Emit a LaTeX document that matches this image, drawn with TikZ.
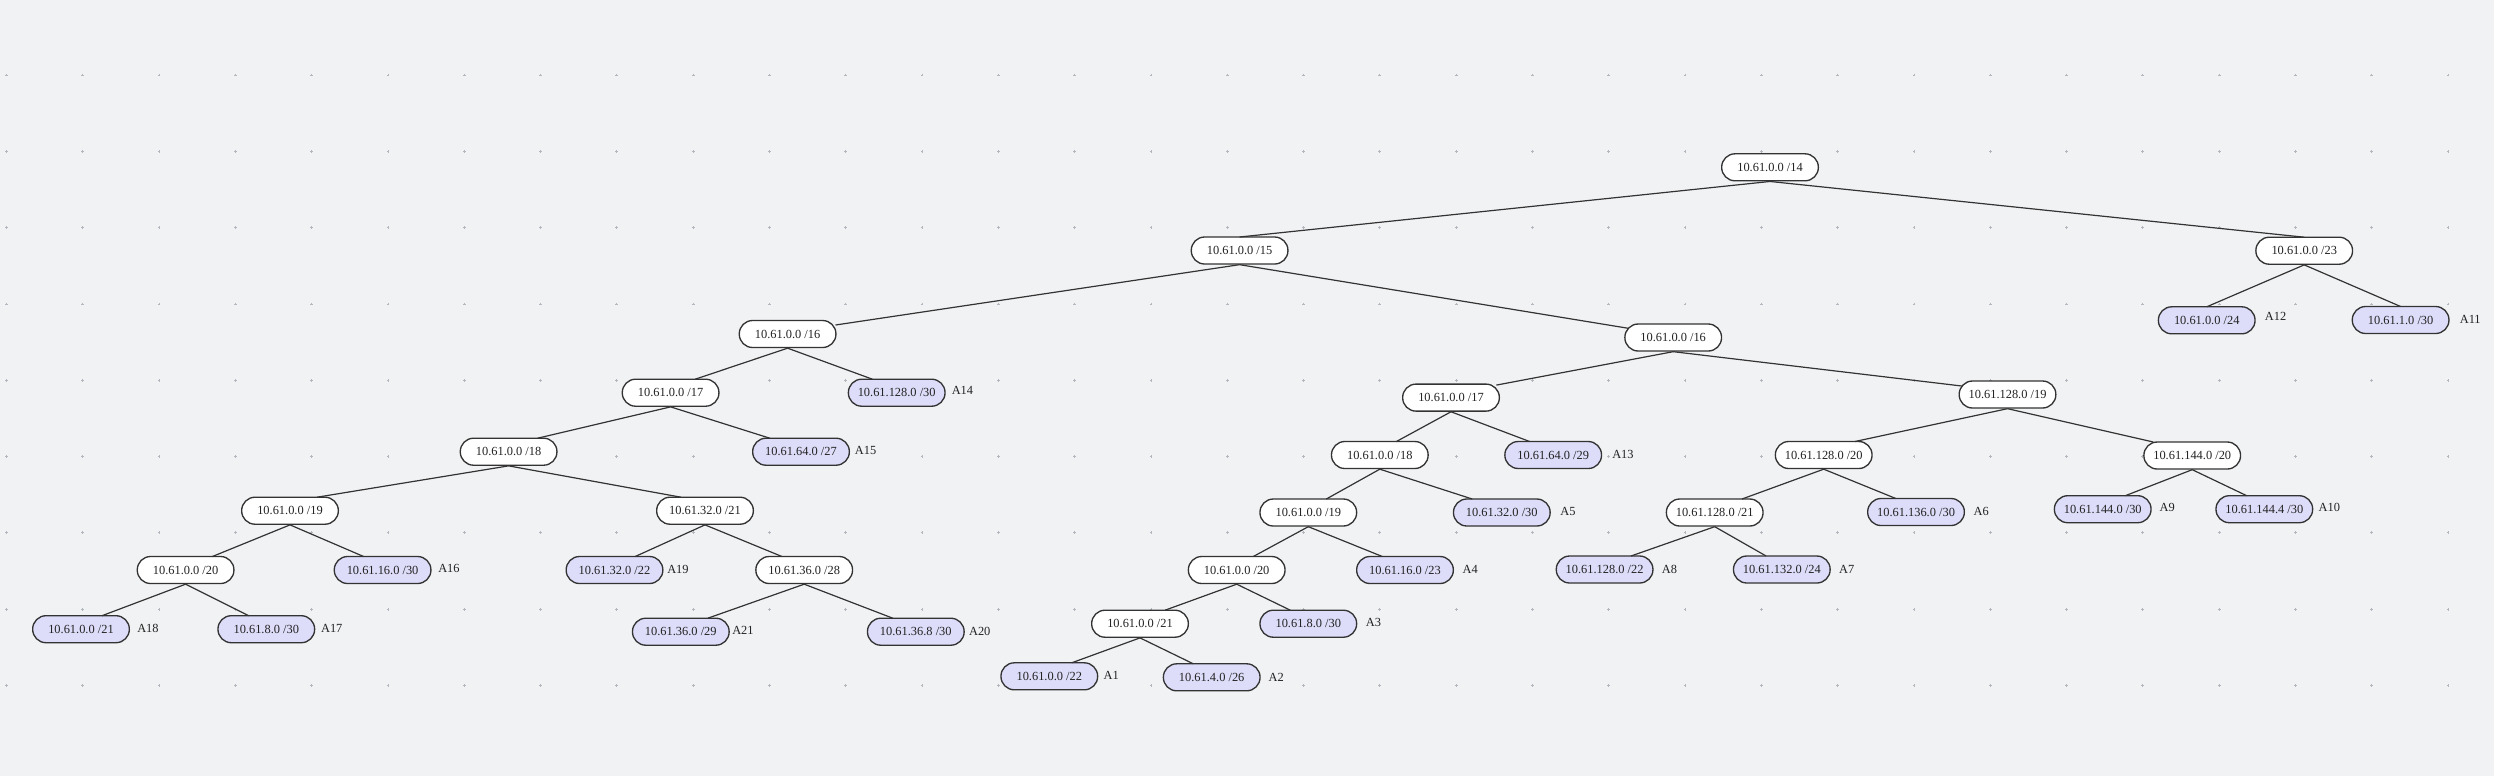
\documentclass[tikz,border=0pt]{standalone}
\usepackage{fontspec}
\setmainfont{Liberation Serif}
\definecolor{bgc}{HTML}{F1F2F4}
\definecolor{dotc}{HTML}{B4B7BD}
\definecolor{edgec}{HTML}{333333}
\definecolor{leafc}{HTML}{DDDDFA}
\definecolor{textc}{HTML}{222222}
\tikzset{
  net/.style={draw=edgec, line width=1pt, fill=white, rounded corners=10pt,
    minimum width=72.5pt, minimum height=20.25pt, inner sep=0pt,
    font=\fontsize{9.3}{10}\selectfont, text=textc},
  leaf/.style={net, fill=leafc},
  tag/.style={anchor=west, inner sep=0pt, font=\fontsize{9.3}{10}\selectfont, text=textc},
  link/.style={draw=edgec, line width=0.9pt}
}
\newcommand{\lnk}[4]{\draw[link] (#1.south) -- ([shift={(#3,#4)}]#2.center);}
\begin{document}
\begin{tikzpicture}[x=0.75pt,y=-0.75pt]
\fill[bgc] (0,0) rectangle (2494,776);
\useasboundingbox (0,0) rectangle (2494,776);
\foreach \i in {0,...,32}{
  \foreach \j in {0,...,8}{
    \draw[dotc, line width=0.55pt] (5.0+76.3*\i, 75+76.3*\j) -- ++(2.8,0)
      (6.4+76.3*\i, 73.6+76.3*\j) -- ++(0,2.8);
  }
}
% internal nodes
\node[net] (r14) at (1770,167.3) {10.61.0.0 /14};
\node[net] (n15) at (1239.6,250.5) {10.61.0.0 /15};
\node[net] (n23) at (2304.2,250.7) {10.61.0.0 /23};
\node[net] (n16L) at (787.6,334) {10.61.0.0 /16};
\node[net] (n16R) at (1673.2,337.5) {10.61.0.0 /16};
\node[net] (n17L) at (670.6,392.7) {10.61.0.0 /17};
\node[net] (n17R) at (1451,397.6) {10.61.0.0 /17};
\node[net] (n19a) at (2007.5,394.5) {10.61.128.0 /19};
\node[net] (n18L) at (508.6,451.7) {10.61.0.0 /18};
\node[net] (n18R) at (1379.8,455) {10.61.0.0 /18};
\node[net] (n20a) at (1823.7,455) {10.61.128.0 /20};
\node[net] (n20b) at (2192.2,455.5) {10.61.144.0 /20};
\node[net] (n19L) at (290,510.7) {10.61.0.0 /19};
\node[net] (n21c) at (705,510.7) {10.61.32.0 /21};
\node[net] (n19R) at (1308.3,512.5) {10.61.0.0 /19};
\node[net] (n21a) at (1714.7,512.5) {10.61.128.0 /21};
\node[net] (n20L) at (185.6,570) {10.61.0.0 /20};
\node[net] (n28) at (804.2,570) {10.61.36.0 /28};
\node[net] (n20R) at (1236.7,570) {10.61.0.0 /20};
\node[net] (n21R) at (1140,623.7) {10.61.0.0 /21};
% leaves
\node[leaf] (a12) at (2206.7,320.3) {10.61.0.0 /24};
\node[leaf] (a11) at (2400.6,320) {10.61.1.0 /30};
\node[leaf] (a14) at (896.7,392.7) {10.61.128.0 /30};
\node[leaf] (a15) at (801,451.7) {10.61.64.0 /27};
\node[leaf] (a13) at (1553.2,455) {10.61.64.0 /29};
\node[leaf] (a5) at (1501.8,512.5) {10.61.32.0 /30};
\node[leaf] (a6) at (1916,512) {10.61.136.0 /30};
\node[leaf] (a9) at (2102.7,509.2) {10.61.144.0 /30};
\node[leaf] (a10) at (2264.3,509.2) {10.61.144.4 /30};
\node[leaf] (a16) at (382.6,570) {10.61.16.0 /30};
\node[leaf] (a19) at (614.5,570) {10.61.32.0 /22};
\node[leaf] (a4) at (1405,570) {10.61.16.0 /23};
\node[leaf] (a8) at (1604.6,569.5) {10.61.128.0 /22};
\node[leaf] (a7) at (1781.8,569.5) {10.61.132.0 /24};
\node[leaf] (a18) at (81,629.2) {10.61.0.0 /21};
\node[leaf] (a17) at (266.3,629.2) {10.61.8.0 /30};
\node[leaf] (a21) at (680.8,631.7) {10.61.36.0 /29};
\node[leaf] (a20) at (915.8,631.7) {10.61.36.8 /30};
\node[leaf] (a3) at (1308.3,623.7) {10.61.8.0 /30};
\node[leaf] (a1) at (1049.3,676.3) {10.61.0.0 /22};
\node[leaf] (a2) at (1211.7,677.3) {10.61.4.0 /26};
% labels
\node[tag] (t12) at (2264.6,316.7) {A12};
\node[tag] (t11) at (2459.5,319) {A11};
\node[tag] (t14) at (951.5,390.7) {A14};
\node[tag] (t15) at (854.6,450) {A15};
\node[tag] (t13) at (1612,454.3) {A13};
\node[tag] (t5) at (1560.2,511.7) {A5};
\node[tag] (t6) at (1973.3,511.7) {A6};
\node[tag] (t9) at (2159.3,507.7) {A9};
\node[tag] (t10) at (2318.3,507.7) {A10};
\node[tag] (t16) at (438,568.3) {A16};
\node[tag] (t19) at (667,569.3) {A19};
\node[tag] (t4) at (1462.3,569) {A4};
\node[tag] (t8) at (1661.7,569) {A8};
\node[tag] (t7) at (1838.8,569) {A7};
\node[tag] (t18) at (137,628.3) {A18};
\node[tag] (t17) at (320.8,628) {A17};
\node[tag] (t21) at (732,630.7) {A21};
\node[tag] (t20) at (968.8,631) {A20};
\node[tag] (t3) at (1365.7,622.3) {A3};
\node[tag] (t1) at (1103.3,675.7) {A1};
\node[tag] (t2) at (1268.3,677) {A2};
% edges
\lnk{r14}{n15}{0}{-13.5}
\lnk{r14}{n23}{0}{-13.5}
\lnk{n15}{n16L}{47.9}{-9}
\lnk{n15}{n16R}{-44.8}{-9.2}
\lnk{n23}{a12}{0}{-13.5}
\lnk{n23}{a11}{0}{-13.5}
\lnk{n16L}{n17L}{24.6}{-13.5}
\lnk{n16L}{a14}{-24.3}{-13.5}
\lnk{n16R}{n17R}{45.3}{-12.5}
\lnk{n16R}{n19a}{-45.8}{-8.5}
\lnk{n17L}{n18L}{29}{-13.5}
\lnk{n17L}{a15}{-31.2}{-13.5}
\lnk{n17R}{n18R}{16.6}{-13.5}
\lnk{n17R}{a13}{-23.6}{-13.5}
\lnk{n19a}{n20a}{31.2}{-13.5}
\lnk{n19a}{n20b}{-38.9}{-13.5}
\lnk{n18L}{n19L}{27}{-13.5}
\lnk{n18L}{n21c}{-24}{-13.5}
\lnk{n18R}{n19R}{18}{-13.5}
\lnk{n18R}{a5}{-29.6}{-13.5}
\lnk{n20a}{n21a}{27.3}{-13.5}
\lnk{n20a}{a6}{-20.2}{-13.5}
\lnk{n20b}{a9}{22.6}{-13.5}
\lnk{n20b}{a10}{-17.6}{-13.5}
\lnk{n19L}{n20L}{26.8}{-13.5}
\lnk{n19L}{a16}{-19}{-13.5}
\lnk{n21c}{a19}{20.7}{-13.5}
\lnk{n21c}{n28}{-22.3}{-13.5}
\lnk{n19R}{n20R}{16.6}{-13.5}
\lnk{n19R}{a4}{-22.7}{-13.5}
\lnk{n21a}{a8}{26.4}{-13.5}
\lnk{n21a}{a7}{-15.7}{-13.5}
\lnk{n20L}{a18}{21}{-13.5}
\lnk{n20L}{a17}{-17.6}{-13.5}
\lnk{n28}{a21}{27}{-13.5}
\lnk{n28}{a20}{-23}{-13.5}
\lnk{n20R}{n21R}{25}{-13.5}
\lnk{n20R}{a3}{-18}{-13.5}
\lnk{n21R}{a1}{22.4}{-13.5}
\lnk{n21R}{a2}{-18.4}{-13.5}
\end{tikzpicture}
\end{document}
